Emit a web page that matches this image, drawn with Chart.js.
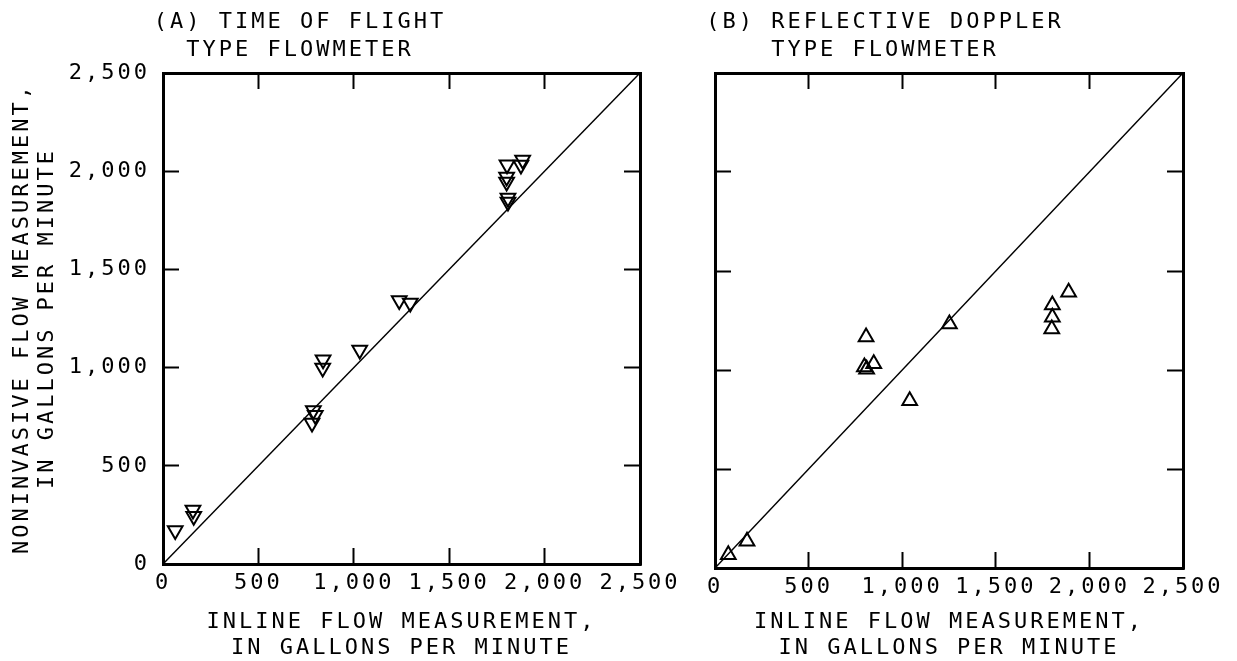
<!DOCTYPE html>
<html>
<head>
<meta charset="utf-8">
<script src="https://cdn.jsdelivr.net/npm/chart.js@4.4.1/dist/chart.umd.min.js"></script>
<style>
    html, body { margin: 0; padding: 0; background: #fff; }
    #wrap { position: relative; width: 1237px; height: 661px; overflow: hidden; }
    canvas { position: absolute; top: 0; }
    #chartA { left: 0; }
    #chartB { left: 690px; }
</style>
</head>
<body>
<div id="wrap">
    <canvas id="chartA" width="690" height="661"></canvas>
    <canvas id="chartB" width="547" height="661"></canvas>
</div>
<script>
// ==========================================
//      DATA (gallons per minute)
// ==========================================
const tofInline       = [1803, 1885, 1876, 1801, 1801, 1808, 1808, 1238, 1296, 1031,  839,  837, 788, 798, 781, 157, 161,  64];
const tofNoninvasive  = [2033, 2057, 2031, 1970, 1945, 1863, 1843, 1342, 1329, 1089, 1040,  998, 782, 757, 718, 275, 243, 171];

const dopplerInline      = [1889, 1802, 1802, 1799, 1252,  807,  798,  810,  848, 1040, 171, 71];
const dopplerNoninvasive = [1393, 1328, 1266, 1207, 1232, 1167, 1015, 1004, 1032,  845, 135, 67];

const equalityLine = [0, 2500];
const tickValues = [0, 500, 1000, 1500, 2000, 2500];

const titleA = ['(A) TIME OF FLIGHT', 'TYPE FLOWMETER'];
const titleB = ['(B) REFLECTIVE DOPPLER', 'TYPE FLOWMETER'];
const xTitle = ['INLINE FLOW MEASUREMENT,', 'IN GALLONS PER MINUTE'];
const yTitle = ['NONINVASIVE FLOW MEASUREMENT,', 'IN GALLONS PER MINUTE'];

// ==========================================
//      STYLING
// ==========================================
const FONT = "'DejaVu Sans Mono', monospace";
Chart.defaults.font.family = FONT;
Chart.defaults.font.size = 22;
Chart.defaults.color = '#000';

// plotter lettering is widely spaced
const spacing = {
    id: 'spacing',
    beforeLayout(chart) { chart.ctx.letterSpacing = '3px'; },
    beforeDraw(chart) { chart.ctx.letterSpacing = '3px'; }
};

// panel heading, placed off-centre like the original
const panelTitle = {
    id: 'panelTitle',
    afterDraw(chart, args, opts) {
        const ctx = chart.ctx;
        ctx.save();
        ctx.font = '22px ' + FONT;
        ctx.fillStyle = '#000';
        ctx.textAlign = 'center';
        ctx.textBaseline = 'alphabetic';
        opts.lines.forEach((t, i) => ctx.fillText(t, opts.x, opts.y + i * opts.step));
        ctx.restore();
    }
};

function setTicks(scale) {
    scale.ticks = tickValues.map(v => ({ value: v }));
}

function frameAxis(position, extra) {
    return Object.assign({
        type: 'linear',
        position: position,
        min: 0,
        max: 2500,
        afterBuildTicks: setTicks,
        grid: { drawOnChartArea: false, drawTicks: true, tickLength: -16, color: '#000', tickColor: '#000', tickWidth: 2 },
        border: { display: true, color: '#000', width: 3 },
        ticks: { display: false }
    }, extra);
}

function buildChart(id, xs, ys, rotation, opts) {
    const points = xs.map((x, i) => ({ x: x, y: ys[i] }));
    const diag = equalityLine.map(v => ({ x: v, y: v }));

    return new Chart(document.getElementById(id), {
        type: 'scatter',
        data: {
            datasets: [
                {
                    data: points,
                    pointStyle: 'triangle',
                    rotation: rotation,
                    pointRadius: 8.5,
                    borderColor: '#000',
                    borderWidth: 2,
                    backgroundColor: 'rgba(0,0,0,0)',
                    clip: false,
                    xAxisID: 'x', yAxisID: 'y'
                },
                {
                    data: diag,
                    showLine: true,
                    pointRadius: 0,
                    borderColor: '#000',
                    borderWidth: 1.5,
                    xAxisID: 'x', yAxisID: 'y'
                }
            ]
        },
        options: {
            responsive: false,
            animation: false,
            events: [],
            layout: { padding: { top: 73, right: opts.padRight, left: 0, bottom: 0 } },
            plugins: {
                legend: { display: false },
                tooltip: { enabled: false },
                panelTitle: { lines: opts.title, x: opts.titleX, y: 28, step: 28 }
            },
            scales: {
                x: frameAxis('bottom', {
                    ticks: { display: true, padding: 22, maxRotation: 0, autoSkip: false, callback: v => v.toLocaleString('en-US') },
                    title: { display: true, text: xTitle, font: { size: 22, lineHeight: 1.18 }, padding: { top: 0, bottom: 0 } },
                    afterFit: s => { s.height = opts.xHeight; s.paddingLeft = 0; s.paddingRight = 0; }
                }),
                x2: frameAxis('top', { afterFit: s => { s.height = 0; s.paddingLeft = 0; s.paddingRight = 0; } }),
                y: frameAxis('left', {
                    ticks: opts.yLabels
                        ? { display: true, padding: 29, callback: v => v.toLocaleString('en-US') }
                        : { display: false },
                    title: opts.yLabels
                        ? { display: true, text: yTitle, font: { size: 22, lineHeight: 1.14 }, padding: { top: 10, bottom: 0 } }
                        : { display: false },
                    afterFit: s => { s.width = opts.yWidth; s.paddingTop = 0; s.paddingBottom = 0; }
                }),
                y2: frameAxis('right', { afterFit: s => { s.width = 0; s.paddingTop = 0; s.paddingBottom = 0; } })
            }
        },
        plugins: [spacing, panelTitle]
    });
}

buildChart('chartA', tofInline, tofNoninvasive, 180, {
    title: titleA, titleX: 300, padRight: 50, xHeight: 97, yWidth: 163, yLabels: true
});
buildChart('chartB', dopplerInline, dopplerNoninvasive, 0, {
    title: titleB, titleX: 195, padRight: 54, xHeight: 93, yWidth: 25, yLabels: false
});
</script>
</body>
</html>
